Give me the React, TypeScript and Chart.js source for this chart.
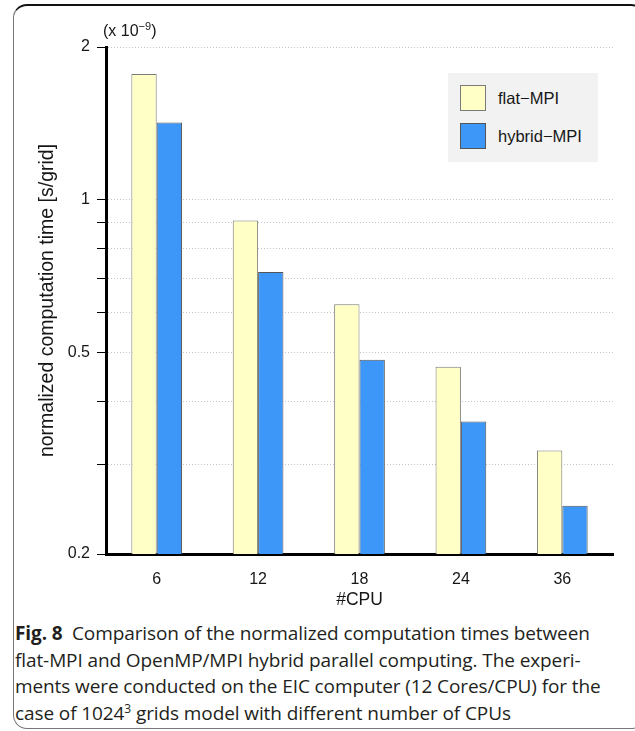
import React, { useEffect, useRef } from "react";
import { Chart, registerables } from "chart.js";
Chart.register(...registerables);

const categories = ["6", "12", "18", "24", "36"];
const flatMPI = [1.77, 0.91, 0.622, 0.468, 0.32];
const hybridMPI = [1.42, 0.72, 0.483, 0.365, 0.249];
const seriesNames = ["flat\u2212MPI", "hybrid\u2212MPI"];
const yTickValues = [0.2, 0.3, 0.4, 0.5, 0.6, 0.7, 0.8, 0.9, 1, 2];
const yLabeled = [0.2, 0.5, 1, 2];
const yTitle = "normalized computation time [s/grid]";
const xTitle = "#CPU";
const captionLines = [
  "Comparison of the normalized computation times between",
  "flat-MPI and OpenMP/MPI hybrid parallel computing. The experi-",
  "ments were conducted on the EIC computer (12 Cores/CPU) for the",
];

const W = 635;
const H = 620;
const FONT = "'Liberation Sans', Arial, Helvetica, sans-serif";
const TXT = "#161616";
const seriesFill = ["#ffffc6", "#3d97f8"];
const seriesBorder = ["#7a7a7a", "#555555"];

export default function App() {
  const ref = useRef<HTMLCanvasElement | null>(null);
  useEffect(() => {
    if (!ref.current) return;
    const chart = new Chart(ref.current, {
      type: "bar",
      data: {
        labels: categories,
        datasets: [flatMPI, hybridMPI].map((d, i) => ({
          label: seriesNames[i],
          data: d,
          backgroundColor: seriesFill[i],
          borderColor: seriesBorder[i],
          borderWidth: 1,
          categoryPercentage: 0.5,
          barPercentage: 1,
        })),
      },
      options: {
        responsive: false,
        animation: false,
        devicePixelRatio: 1,
        layout: { padding: { top: 47, right: 22, left: 0, bottom: 0 } },
        plugins: { legend: { display: false }, tooltip: { enabled: false } },
        scales: {
          x: {
            grid: { display: false },
            border: { display: true, color: "#000", width: 3 },
            ticks: { color: TXT, font: { family: FONT, size: 16 }, padding: 8 },
            title: {
              display: true,
              text: xTitle,
              color: TXT,
              font: { family: FONT, size: 17.5 },
              padding: { top: 0, bottom: 9 },
            },
            afterFit: (s: any) => {
              s.height = H - 554;
            },
          },
          y: {
            type: "logarithmic",
            min: 0.2,
            max: 2,
            afterBuildTicks: (s: any) => {
              s.ticks = yTickValues.map((v) => ({ value: v }));
            },
            ticks: {
              autoSkip: false,
              color: TXT,
              font: { family: FONT, size: 16 },
              padding: 7,
              callback: (v: any) =>
                yLabeled.some((t) => Math.abs(t - Number(v)) < 1e-9) ? String(v) : "",
            },
            grid: {
              color: "#c4c4c4",
              lineWidth: 1,
              tickLength: 9,
              tickColor: "#000",
              tickWidth: 1,
              tickBorderDash: [],
            },
            border: { display: true, color: "#000", width: 3, dash: [1, 2] },
            title: {
              display: true,
              text: yTitle,
              color: TXT,
              font: { family: FONT, size: 19.5 },
              padding: { top: 36, bottom: 0 },
            },
            afterFit: (s: any) => {
              s.width = 106;
            },
          },
        },
      },
    } as any);
    return () => chart.destroy();
  }, []);

  return (
    <div style={{ position: "absolute", left: 0, top: 0, width: W, height: 731, background: "#fff", overflow: "hidden" }}>
      <div
        style={{
          position: "absolute",
          left: 13,
          top: 4,
          width: 630,
          height: 722,
          borderTop: "2px solid #111",
          borderLeft: "1px solid #777",
          borderRight: "1px solid #777",
          borderBottom: "1px solid #777",
          borderRadius: 14,
        }}
      />
      <canvas ref={ref} width={W} height={H} style={{ position: "absolute", left: 0, top: 0, width: W, height: H }} />
      <div style={{ position: "absolute", left: 103, top: 22, font: `16px ${FONT}`, color: TXT, whiteSpace: "nowrap" }}>
        (x 10<sup style={{ fontSize: 11, verticalAlign: "top", position: "relative", top: -2 }}>{"\u22129"}</sup>)
      </div>
      <div style={{ position: "absolute", left: 448, top: 73, width: 150, height: 89, background: "#f2f2f2" }}>
        {seriesNames.map((n, i) => (
          <div key={n} style={{ position: "absolute", left: 12, top: 12 + i * 38, height: 26, display: "flex", alignItems: "center" }}>
            <div style={{ width: 24, height: 24, background: seriesFill[i], border: `1px solid ${seriesBorder[i]}` }} />
            <span style={{ marginLeft: 12, font: `16.5px ${FONT}`, color: TXT, whiteSpace: "nowrap" }}>{n}</span>
          </div>
        ))}
      </div>
      <div
        style={{
          position: "absolute",
          left: 15,
          top: 620,
          fontFamily: "'Open Sans', 'Noto Sans', sans-serif",
          fontSize: 19,
          lineHeight: "26.7px",
          color: "#231f20",
          whiteSpace: "nowrap",
          letterSpacing: -0.1,
        }}
      >
        <div>
          <b>Fig. 8</b>
          {"\u2002"}
          {captionLines[0]}
        </div>
        <div>{captionLines[1]}</div>
        <div>{captionLines[2]}</div>
        <div>
          case of 1024<sup style={{ fontSize: 12, lineHeight: 0 }}>3</sup> grids model with different number of CPUs
        </div>
      </div>
    </div>
  );
}
